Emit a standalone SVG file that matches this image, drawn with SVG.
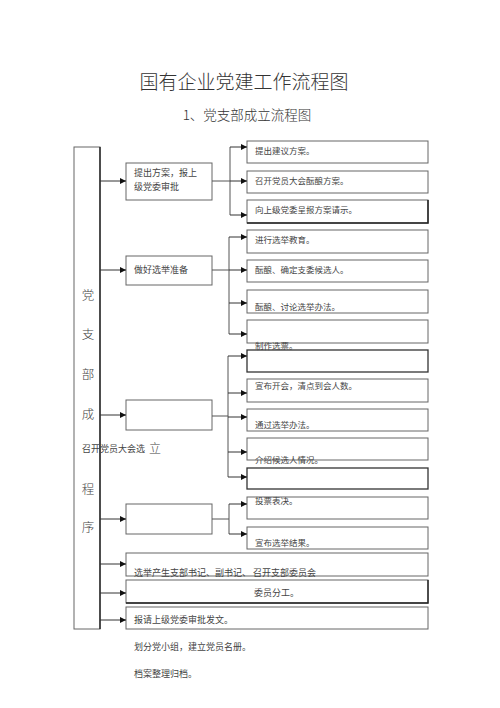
<svg xmlns="http://www.w3.org/2000/svg" width="500" height="708" viewBox="0 0 500 708">
<style>
.b{fill:#fff;stroke:#666;stroke-width:1}
.bd{fill:#fff;stroke:#333;stroke-width:1.3}
.t{font-family:"Noto Sans CJK SC","Liberation Sans",sans-serif;font-size:8.5px;fill:#444}
.tm{font-family:"Noto Sans CJK SC","Liberation Sans",sans-serif;font-size:9px;fill:#444}
.tl{font-family:"Noto Sans CJK SC","Liberation Sans",sans-serif;font-size:12.5px;fill:#444;text-anchor:middle;font-weight:300}
.c{fill:none;stroke:#333;stroke-width:1;marker-end:url(#ah)}
.n{fill:none;stroke:#555;stroke-width:1}
</style>
<defs>
<marker id="ah" markerWidth="6" markerHeight="6" refX="6" refY="3" orient="auto" markerUnits="userSpaceOnUse">
<path d="M0,0 L6,3 L0,6 Z" fill="#111"/>
</marker>
</defs>
<rect width="500" height="708" fill="#fff"/>
<text x="244" y="89" font-family="Noto Sans CJK SC,Liberation Sans,sans-serif" font-size="19" fill="#333" text-anchor="middle" font-weight="300">国有企业党建工作流程图</text>
<text x="247" y="120" font-family="Noto Sans CJK SC,Liberation Sans,sans-serif" font-size="13.5" fill="#333" text-anchor="middle" font-weight="300">1、党支部成立流程图</text>

<g id="left">
<rect x="74" y="147" width="26" height="482" class="b"/>
<line x1="100" y1="147" x2="100" y2="629" stroke="#222" stroke-width="1.4"/>
<text x="88" y="300" class="tl">党</text>
<text x="88" y="339" class="tl">支</text>
<text x="88" y="379" class="tl">部</text>
<text x="88" y="419" class="tl">成</text>
<text x="88" y="494" class="tl">程</text>
<text x="88" y="532" class="tl">序</text>
</g>

<g id="m1"><rect x="126" y="163" width="86" height="37" class="b"/>
<text x="134" y="176" class="tm">提出方案，报上</text><text x="134" y="190" class="tm">级党委审批</text></g>
<g id="m2"><rect x="126" y="256" width="86" height="29" class="b"/>
<text x="134" y="273" class="tm">做好选举准备</text></g>
<g id="m3"><rect x="126" y="400" width="86" height="30" class="b"/></g>
<g id="m4"><rect x="126" y="504" width="86" height="30" class="b"/></g>
<g id="free1"><text x="82" y="452" class="tm">召开党员大会选</text>
<text x="149" y="453" font-family="Noto Sans CJK SC,sans-serif" font-size="12" fill="#444" font-weight="300">立</text></g>

<g id="r1"><rect x="247" y="141" width="181" height="22" class="b"/><text x="255" y="154" class="t">提出建议方案。</text></g>
<g id="r2"><rect x="247" y="171" width="181" height="22" class="b"/><text x="255" y="184" class="t">召开党员大会酝酿方案。</text></g>
<g id="r3"><rect x="247" y="200" width="181" height="23" class="b"/>
<path d="M428,200 V223 H247" fill="none" stroke="#222" stroke-width="1.5"/><text x="255" y="213" class="t">向上级党委呈报方案请示。</text></g>
<g id="r4"><rect x="247" y="230" width="181" height="23" class="b"/><text x="255" y="243" class="t">进行选举教育。</text></g>
<g id="r5"><rect x="247" y="260" width="181" height="22" class="b"/><text x="255" y="273" class="t">酝酿、确定支委候选人。</text></g>
<g id="r6"><rect x="247" y="290" width="181" height="23" class="b"/><text x="255" y="310" class="t">酝酿、讨论选举办法。</text></g>
<g id="r7"><rect x="247" y="320" width="181" height="23" class="b"/></g>
<g id="r8"><rect x="247" y="350" width="181" height="22" class="bd"/><text x="255" y="349" class="t">制作选票。</text></g>
<g id="r9"><rect x="247" y="379" width="181" height="23" class="b"/><text x="255" y="389" class="t">宣布开会，清点到会人数。</text></g>
<g id="r10"><rect x="247" y="409" width="181" height="22" class="b"/><text x="255" y="428" class="t">通过选举办法。</text></g>
<g id="r11"><rect x="247" y="438" width="181" height="22" class="b"/><text x="255" y="463" class="t">介绍候选人情况。</text></g>
<g id="r12"><rect x="247" y="468" width="181" height="21" class="bd"/></g>
<g id="r13"><rect x="247" y="497" width="181" height="22" class="b"/><text x="255" y="504" class="t">投票表决。</text></g>
<g id="r14"><rect x="247" y="527" width="181" height="22" class="b"/><text x="255" y="546" class="t">宣布选举结果。</text></g>

<g id="w1"><rect x="126" y="553" width="302" height="23" class="b"/><text x="134" y="576" class="tm">选举产生支部书记、副书记、 召开支部委员会</text></g>
<g id="w2"><rect x="126" y="580" width="302" height="23" class="b"/>
<path d="M428,580 V603 H126" fill="none" stroke="#222" stroke-width="1.4"/><text x="254" y="596" class="tm">委员分工。</text></g>
<g id="w3"><rect x="126" y="607" width="302" height="22" class="b"/><text x="134" y="623" class="tm">报请上级党委审批发文。</text></g>
<g id="free2"><text x="134" y="650" class="tm">划分党小组，建立党员名册。</text>
<text x="134" y="677" class="tm">档案整理归档。</text></g>

<g id="connectors">
<path class="c" d="M100,181 H126"/>
<path class="c" d="M100,270 H126"/>
<path class="c" d="M100,415 H126"/>
<path class="c" d="M100,519 H126"/>
<path class="c" d="M100,564 H126"/>
<path class="c" d="M100,593 H126"/>
<path class="c" d="M100,620 H126"/>

<path class="n" d="M212,181 H230"/>
<path class="n" d="M230,147 V215"/>
<path class="c" d="M230,147 H247"/>
<path class="c" d="M230,181 H247"/>
<path class="c" d="M230,215 H247"/>

<path class="n" d="M212,270 H229"/>
<path class="n" d="M229,237 V334"/>
<path class="c" d="M229,237 H247"/>
<path class="c" d="M229,270 H247"/>
<path class="c" d="M229,303 H247"/>
<path class="c" d="M229,334 H247"/>

<path class="n" d="M212,416 H228"/>
<path class="n" d="M228,356 V477"/>
<path class="c" d="M228,356 H247"/>
<path class="c" d="M228,393 H247"/>
<path class="c" d="M228,417 H247"/>
<path class="c" d="M228,452 H247"/>
<path class="c" d="M228,477 H247"/>

<path class="n" d="M212,519 H229"/>
<path class="n" d="M229,504 V534"/>
<path class="c" d="M229,504 H247"/>
<path class="c" d="M229,534 H247"/>
</g>
</svg>
